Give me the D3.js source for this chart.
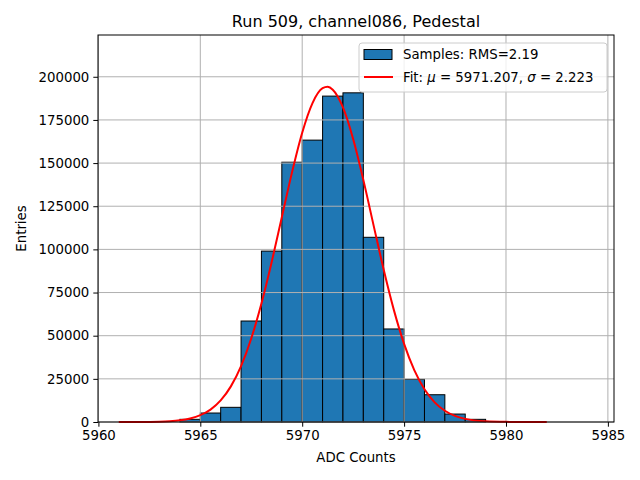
<!DOCTYPE html>
<html>
<head>
<meta charset="utf-8">
<script src="https://cdn.jsdelivr.net/npm/d3@7"></script>
<style>
  body { margin: 0; background: #fff; }
  text { font-family: "DejaVu Sans", sans-serif; }
</style>
</head>
<body>
<svg id="chart" width="640" height="480"></svg>
<script>
// histogram bins (left edge, width 1 ADC count)
const binLefts = [5964, 5965, 5966, 5967, 5968, 5969, 5970, 5971, 5972, 5973, 5974, 5975, 5976, 5977, 5978];
const counts = [1550, 5200, 8500, 58500, 99000, 150500, 163300, 188800, 190700, 107000, 53900, 24700, 15800, 4600, 1550];
const binWidth = 1;

// gaussian fit curve
const fitX = [5961, 5962, 5963, 5963.5, 5964, 5964.5, 5965, 5965.5, 5966, 5966.5, 5967, 5967.5, 5968, 5968.5,
  5969, 5969.5, 5970, 5970.5, 5971, 5971.25, 5971.5, 5972, 5972.5, 5973, 5973.5, 5974, 5974.5, 5975,
  5975.5, 5976, 5976.5, 5977, 5977.5, 5978, 5979, 5980, 5981, 5982];
const fitY = [5, 36, 213, 477, 1014, 2051, 3940, 7197, 12500, 20640, 32390, 48380, 68590, 92520,
  118640, 144620, 167590, 184620, 193360, 194200, 192520, 182240, 163960, 140270, 114070, 88210, 64820, 45290,
  30080, 19000, 11400, 6511, 3533, 1822, 416, 78, 12, 2];

const xTicks = [5960, 5965, 5970, 5975, 5980, 5985];
const yTicks = [0, 25000, 50000, 75000, 100000, 125000, 150000, 175000, 200000];

const title = "Run 509, channel086, Pedestal";
const xLabel = "ADC Counts";
const yLabel = "Entries";
const rmsLabel = "Samples: RMS=2.19";
const fitMu = "5971.207";
const fitSigma = "2.223";

const margin = { top: 35, right: 26, bottom: 58, left: 98 };
const width = 640 - margin.left - margin.right;
const height = 480 - margin.top - margin.bottom;

const svg = d3.select("#chart");
const chart = svg.append("g")
    .attr("transform", `translate(${margin.left},${margin.top})`);

const x = d3.scaleLinear()
    .domain([5959.98, 5985.3])
    .range([0, width]);
const y = d3.scaleLinear()
    .domain([0, 224200])
    .range([height, 0]);

// bars
chart.selectAll("rect.bar")
    .data(binLefts)
    .enter()
    .append("rect")
    .attr("class", "bar")
    .attr("x", d => x(d))
    .attr("y", (d, i) => y(counts[i]))
    .attr("width", d => x(d + binWidth) - x(d))
    .attr("height", (d, i) => height - y(counts[i]))
    .attr("fill", "#1f77b4")
    .attr("stroke", "#000")
    .attr("stroke-width", 1);

// grid (drawn over the bars, like matplotlib)
chart.append("g").selectAll("line")
    .data(xTicks)
    .enter()
    .append("line")
    .attr("x1", d => x(d)).attr("x2", d => x(d))
    .attr("y1", 0).attr("y2", height)
    .attr("stroke", "#b0b0b0").attr("stroke-width", 1);
chart.append("g").selectAll("line")
    .data(yTicks)
    .enter()
    .append("line")
    .attr("x1", 0).attr("x2", width)
    .attr("y1", d => y(d)).attr("y2", d => y(d))
    .attr("stroke", "#b0b0b0").attr("stroke-width", 1);

// fit curve
const line = d3.line()
    .x((d, i) => x(fitX[i]))
    .y(d => y(d))
    .curve(d3.curveMonotoneX);
chart.append("path")
    .datum(fitY)
    .attr("d", line)
    .attr("fill", "none")
    .attr("stroke", "red")
    .attr("stroke-width", 2);

// axes
const xAxis = chart.append("g")
    .attr("transform", `translate(0,${height})`)
    .call(d3.axisBottom(x).tickValues(xTicks).tickFormat(d3.format("d")).tickSize(4.7).tickPadding(4));
const yAxis = chart.append("g")
    .call(d3.axisLeft(y).tickValues(yTicks).tickFormat(d3.format("d")).tickSize(4.7).tickPadding(4));
[xAxis, yAxis].forEach(a => {
    a.select(".domain").remove();
    a.selectAll("text").attr("font-size", "13.3px").attr("font-family", "DejaVu Sans").attr("fill", "#000");
    a.selectAll("line").attr("stroke", "#000").attr("stroke-width", 1);
});

// frame
chart.append("rect")
    .attr("width", width).attr("height", height)
    .attr("fill", "none").attr("stroke", "#000").attr("stroke-width", 1);

// labels
svg.append("text")
    .attr("x", margin.left + width / 2).attr("y", 27)
    .attr("text-anchor", "middle").attr("font-size", "16px")
    .text(title);
svg.append("text")
    .attr("x", margin.left + width / 2).attr("y", 462)
    .attr("text-anchor", "middle").attr("font-size", "13.3px")
    .text(xLabel);
svg.append("text")
    .attr("transform", `translate(26,${margin.top + height / 2}) rotate(-90)`)
    .attr("text-anchor", "middle").attr("font-size", "13.3px")
    .text(yLabel);

// legend
const legend = svg.append("g").attr("transform", "translate(359,43)");
legend.append("rect")
    .attr("width", 248).attr("height", 49)
    .attr("rx", 3)
    .attr("fill", "#fff").attr("fill-opacity", 0.8)
    .attr("stroke", "#cccccc").attr("stroke-width", 1);
legend.append("rect")
    .attr("x", 5).attr("y", 6.5).attr("width", 28).attr("height", 10)
    .attr("fill", "#1f77b4").attr("stroke", "#000").attr("stroke-width", 1);
legend.append("text")
    .attr("x", 44).attr("y", 16).attr("font-size", "13.3px")
    .text(rmsLabel);
legend.append("line")
    .attr("x1", 5).attr("x2", 34).attr("y1", 34).attr("y2", 34)
    .attr("stroke", "red").attr("stroke-width", 2);
const fitText = legend.append("text")
    .attr("x", 44).attr("y", 39).attr("font-size", "13.3px");
fitText.append("tspan").text("Fit: ");
fitText.append("tspan").attr("font-style", "italic").text("\u03bc");
fitText.append("tspan").text(` = ${fitMu}, `);
fitText.append("tspan").attr("font-style", "italic").text("\u03c3");
fitText.append("tspan").text(` = ${fitSigma}`);
</script>
</body>
</html>
